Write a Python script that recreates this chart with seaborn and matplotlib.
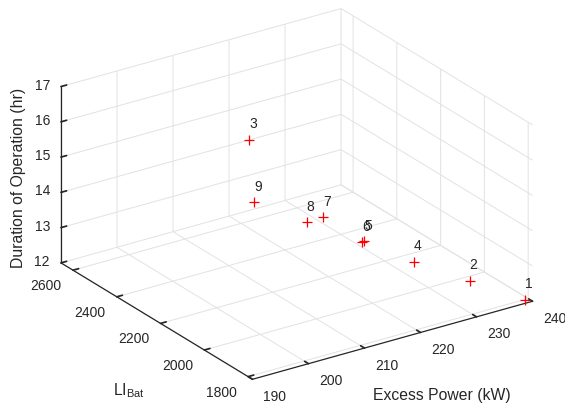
import numpy as np
import pandas as pd
import seaborn as sns
import matplotlib
matplotlib.use('Agg')
import matplotlib.pyplot as plt
from mpl_toolkits.mplot3d import proj3d

# ---- data ----
labels = ['1', '2', '3', '4', '5', '6', '7', '8', '9']
excess_power = [239.4, 231.5, 217.5, 225.5, 222.5, 222.1, 222.9, 220.0, 218.4]
li_bat = [1800, 1850, 2500, 1950, 2100, 2100, 2300, 2300, 2500]
duration = [12.0, 12.69, 14.86, 13.12, 13.27, 13.26, 13.18, 13.16, 13.05]

x_ticks = [190, 200, 210, 220, 230, 240]
y_ticks = [1800, 2000, 2200, 2400, 2600]
z_ticks = [12, 13, 14, 15, 16, 17]

df = pd.DataFrame({'label': labels, 'x': excess_power, 'y': li_bat, 'z': duration})

sns.set_theme(style='white')
plt.rcParams['font.family'] = ['Liberation Sans', 'DejaVu Sans']
plt.rcParams['mathtext.fontset'] = 'custom'
plt.rcParams['mathtext.rm'] = 'Liberation Sans'
plt.rcParams['mathtext.it'] = 'Liberation Sans:italic'

TXT = '#262626'
W, H = 565, 410
fig = plt.figure(figsize=(W / 100, H / 100), dpi=100)
ax = fig.add_subplot(projection='3d', proj_type='ortho')
ax.view_init(elev=24.3, azim=-124.1)
ax.set_box_aspect((1, 1.01, 0.572))
XL, YL, ZL = (190, 240), (1780, 2655), (12, 17)
ax.set_xlim(*XL)
ax.set_ylim(*YL)
ax.set_zlim(*ZL)
ax.set_xticks(x_ticks)
ax.set_yticks(y_ticks)
ax.set_zticks(z_ticks)
ax.set_xticklabels([])
ax.set_yticklabels([])
ax.set_zticklabels([])

for axis in (ax.xaxis, ax.yaxis, ax.zaxis):
    axis.set_pane_color((1, 1, 1, 0))
    axis.pane.set_edgecolor('#e0e0e0')
    axis.pane.set_linewidth(0.7)
    axis._axinfo['grid'].update(color='#e2e2e2', linewidth=0.7, linestyle='-')
    axis._axinfo['tick'].update(inward_factor=0.0, outward_factor=0.25)
    axis._axinfo['axisline'].update(color=TXT, linewidth=0.9)
    axis.line.set_color(TXT)
    axis.line.set_linewidth(0.9)
ax.grid(True)
ax.tick_params(colors=TXT, width=0.8)

ax.scatter(df['x'], df['y'], df['z'], marker='+', s=60, c='#ff0000',
           linewidths=0.9, depthshade=False)

ax.set_xlabel('')
ax.set_ylabel('')
ax.set_zlabel('')

# ---- fit the projected box onto the reference's pixel layout ----
def to_px(x, y, z):
    xs, ys, _ = proj3d.proj_transform(x, y, z, ax.get_proj())
    return ax.transData.transform((xs, ys))

fig.canvas.draw()
corners = [(XL[0], YL[0], ZL[0]), (XL[1], YL[0], ZL[0]),
           (XL[0], YL[1], ZL[0]), (XL[0], YL[1], ZL[1])]
targets = np.array([(252, 380), (533, 302), (61, 264), (61, 88)], float)
targets[:, 1] = H - targets[:, 1]
P = np.array([to_px(*c) for c in corners])
Pm, Tm = P.mean(0), targets.mean(0)
s = ((P - Pm) * (targets - Tm)).sum() / ((P - Pm) ** 2).sum()
t = Tm - s * Pm
pos = ax.get_position()
x0, y0 = pos.x0 * W, pos.y0 * H
w, h = pos.width * W, pos.height * H
ax.set_position([(t[0] + s * x0) / W, (t[1] + s * y0) / H, s * w / W, s * h / H])
fig.canvas.draw()

def ftext(px, py, s, **kw):
    fig.text(px / W, py / H, s, **kw)

# tick labels
for v in x_ticks:
    px, py = to_px(v, YL[0], ZL[0])
    ftext(px + 22, py - 16.5, str(v), ha='center', va='center', fontsize=10, color=TXT)
for v in y_ticks:
    px, py = to_px(XL[0], v, ZL[0])
    ftext(px - 27, py - 15, str(v), ha='center', va='center', fontsize=10, color=TXT)
for v in z_ticks:
    px, py = to_px(XL[0], YL[1], v)
    ftext(px - 11, py + 2, str(v), ha='right', va='center', fontsize=10, color=TXT)

# point labels (MATLAB-style text just above each marker)
for _, r in df.iterrows():
    px, py = to_px(r['x'], r['y'], r['z'])
    ftext(px, py + 16.5, r['label'], ha='left', va='center', fontsize=10, color=TXT)

ftext(18.5, H - 178, 'Duration of Operation (hr)', rotation=90,
      ha='center', va='center', fontsize=11.3, color=TXT)
ftext(129, H - 391, r'LI$_{\mathrm{Bat}}$', ha='center', va='center',
      fontsize=11.3, color=TXT)
ftext(442, H - 396, 'Excess Power (kW)', ha='center', va='center',
      fontsize=11.3, color=TXT)

fig.savefig('out.png', dpi=100)
